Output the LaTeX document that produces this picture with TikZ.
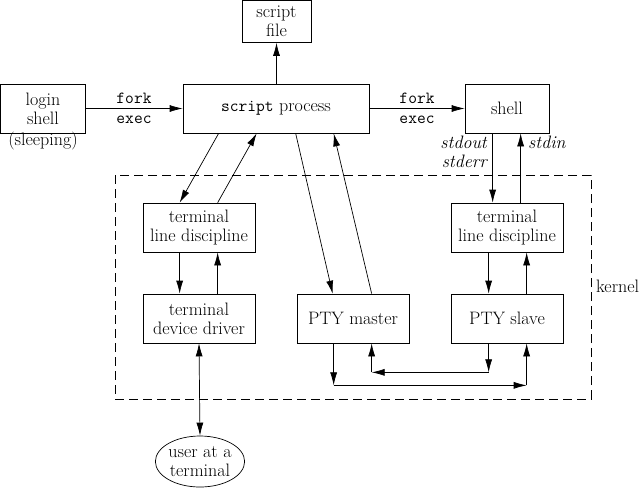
\documentclass[tikz,border=0pt]{standalone}
\usepackage{fontspec}
\usetikzlibrary{arrows.meta,calc,shapes.geometric}
\begin{document}
\begin{tikzpicture}[x=1pt,y=-1pt,
  txt/.style={font=\fontsize{18}{19}\selectfont},
  mono/.style={font=\ttfamily\fontsize{17}{19}\selectfont},
  box/.style={txt, draw, line width=0.7pt, minimum width=112pt, minimum height=49pt, inner sep=0pt, align=center},
  arr/.style={-{Latex[length=13pt,width=7pt]}, line width=0.7pt},
  lbl/.style={txt, inner sep=0pt}]
\useasboundingbox (0,0) rectangle (639,491);
% kernel area
\draw[line width=0.7pt, dash pattern=on 9pt off 5pt] (115,175) rectangle (591,399);
\node[lbl, anchor=base west] (kern) at (596,292) {kernel};
% boxes
\node[box, minimum width=69pt, minimum height=42pt] (sf) at (276.5,21.5) {script\\file};
\node[box, minimum width=85pt] (ls) at (43,108.5) {login\\shell};
\node[lbl, anchor=base] (slp) at (43,145) {(sleeping)};
\node[box, minimum width=186pt] (sp) at (276,108.5) {{\ttfamily\fontsize{17}{19}\selectfont script} process};
\node[box, minimum width=84pt] (sh) at (507,108.5) {shell};
\node[box] (lld) at (199,227.5) {terminal\\line discipline};
\node[box] (dd) at (199,318.5) {terminal\\device driver};
\node[box] (pm) at (353,318.5) {PTY master};
\node[box] (rld) at (507,227.5) {terminal\\line discipline};
\node[box] (ps) at (507,318.5) {PTY slave};
\node[txt, draw, line width=0.7pt, ellipse, minimum width=84pt, minimum height=51pt, inner sep=0pt, align=center] (ut) at (200,461.5) {user at a\\terminal};
% top connections
\draw[arr] (sp.north -| sf.south) -- (sf.south);
\draw[arr] (ls.east) -- (sp.west);
\node[lbl, mono, anchor=base] (f1) at (134,103) {fork};
\node[lbl, mono, anchor=base] (e1) at (134,123) {exec};
\draw[arr] (sp.east) -- (sh.west);
\node[lbl, mono, anchor=base] (f2) at (417,103) {fork};
\node[lbl, mono, anchor=base] (e2) at (417,123) {exec};
% script process <-> left line discipline
\draw[arr] ([xshift=36pt]sp.south west) -- ([xshift=37pt]lld.north west);
\draw[arr] ([xshift=75pt]lld.north west) -- ([xshift=74pt]sp.south west);
% script process <-> PTY master
\draw[arr] ([xshift=113pt]sp.south west) -- ([xshift=36pt]pm.north west);
\draw[arr] ([xshift=75pt]pm.north west) -- ([xshift=151pt]sp.south west);
% shell <-> right line discipline
\draw[arr] ([xshift=28pt]sh.south west) -- ([xshift=42pt]rld.north west);
\node[lbl, anchor=base east] (so) at (487,148) {\itshape stdout};
\node[lbl, anchor=base east] (se) at (487,167) {\itshape stderr};
\draw[arr] ([xshift=70pt]rld.north west) -- ([xshift=56pt]sh.south west);
\node[lbl, anchor=base west] (si) at (528,148) {\itshape stdin};
% left stack
\draw[arr] ([xshift=37pt]lld.south west) -- ([xshift=37pt]dd.north west);
\draw[arr] ([xshift=75pt]dd.north west) -- ([xshift=75pt]lld.south west);
\draw[{Latex[length=13pt,width=7pt]}-{Latex[length=13pt,width=7pt]}, line width=0.7pt] (dd.south) -- (ut.north);
% right stack
\draw[arr] ([xshift=38pt]rld.south west) -- ([xshift=38pt]ps.north west);
\draw[arr] ([xshift=76pt]ps.north west) -- ([xshift=76pt]rld.south west);
% PTY master -> PTY slave
\coordinate (a1) at ([xshift=37pt]pm.south west);
\coordinate (a2) at ($(a1)+(0,42)$);
\coordinate (a4) at ([xshift=76pt]ps.south west);
\coordinate (a3) at (a2 -| a4);
\draw[arr] (a1) -- (a2);
\draw[arr] (a2) -- (a3);
\draw[arr] (a3) -- (a4);
% PTY slave -> PTY master
\coordinate (b1) at ([xshift=38pt]ps.south west);
\coordinate (b2) at ($(b1)+(0,29)$);
\coordinate (b4) at ([xshift=75pt]pm.south west);
\coordinate (b3) at (b2 -| b4);
\draw[arr] (b1) -- (b2);
\draw[arr] (b2) -- (b3);
\draw[arr] (b3) -- (b4);
\end{tikzpicture}
\end{document}
